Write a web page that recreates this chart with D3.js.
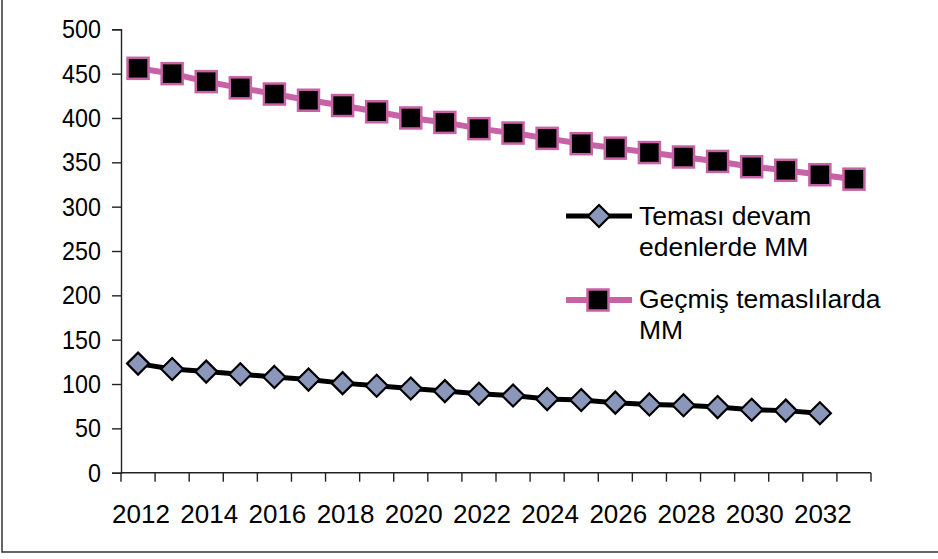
<!DOCTYPE html>
<html><head><meta charset="utf-8">
<script src="https://cdn.jsdelivr.net/npm/d3@7"></script>
<style>html,body{margin:0;padding:0;background:#fff;}svg{display:block;font-family:"Liberation Sans",Arial,sans-serif;}</style>
</head><body>
<svg id="c" width="938" height="559"></svg>
<script>
const categories = ["2012","2013","2014","2015","2016","2017","2018","2019","2020","2021","2022","2023","2024","2025","2026","2027","2028","2029","2030","2031","2032","2033"];
const tickLabels = ["2012","2014","2016","2018","2020","2022","2024","2026","2028","2030","2032"];
const yTicks = [0,50,100,150,200,250,300,350,400,450,500];
const seriesNames = ["Teması devam edenlerde MM","Geçmiş temaslılarda MM"];
const legendLines = [["Teması devam","edenlerde MM"],["Geçmiş temaslılarda","MM"]];
const continuing = [123,117,114,111,108,105,101,98,95,92,89,87,83,82,79,77,76,74,71,70,67];
const past = [456,450,441,434,427,420,414,407,400,395,388,383,377,371,366,361,356,351,345,341,336,331];

const svg = d3.select("#c");
const W = 938, H = 559;
const plot = {left:121, right:871, top:29.3, bottom:472.7};

// outer frame (only left and bottom edges visible)
svg.append("rect").attr("x",2).attr("y",-20).attr("width",W+20).attr("height",552-(-20))
  .attr("fill","none").attr("stroke","#333").attr("stroke-width",1.5);

const x = d3.scaleBand().domain(categories).range([plot.left, plot.right]).padding(0);
const y = d3.scaleLinear().domain([0,500]).range([plot.bottom, plot.top]);
const cx = d => x(d) + x.bandwidth()/2;

// y axis
const sx = 0.88;
const yAxis = d3.axisLeft(y).tickValues(yTicks).tickSize(9).tickPadding(11).tickFormat(d3.format("d"));
const gy = svg.append("g").attr("transform",`translate(${plot.left},0)`).call(yAxis);
gy.select(".domain").attr("stroke","#222").attr("stroke-width",1.4);
gy.selectAll(".tick line").attr("stroke","#222").attr("stroke-width",1.4);
gy.selectAll(".tick text").attr("font-size",26.5).attr("fill","#000")
  .attr("x",-20/sx).attr("transform",`scale(${sx},1)`);

// x axis: tick marks on band boundaries
const boundaries = categories.map(c => x(c)).concat([plot.right]);
svg.append("line").attr("x1",plot.left).attr("x2",plot.right).attr("y1",plot.bottom).attr("y2",plot.bottom)
  .attr("stroke","#222").attr("stroke-width",1.4);
svg.append("g").selectAll("line").data(boundaries).join("line")
  .attr("x1",d=>d).attr("x2",d=>d).attr("y1",plot.bottom).attr("y2",plot.bottom+9)
  .attr("stroke","#222").attr("stroke-width",1.4);
svg.append("g").selectAll("text").data(tickLabels).join("text")
  .attr("x",d=>cx(d)+3).attr("y",523).attr("text-anchor","middle")
  .attr("font-size",26).attr("fill","#000").text(d=>d);

const line = d3.line().x((d,i)=>cx(categories[i])).y(d=>y(d));

// past series (pink line, black squares)
const pink = "#c862a6", slate = "#8a97bb";
svg.append("path").datum(past).attr("d",line).attr("fill","none").attr("stroke",pink).attr("stroke-width",6);
svg.append("g").selectAll("rect").data(past).join("rect")
  .attr("x",(d,i)=>cx(categories[i])-10.5).attr("y",d=>y(d)-10.5)
  .attr("width",21).attr("height",21).attr("fill","#000").attr("stroke",pink).attr("stroke-width",2.5);

// continuing series (black line, slate diamonds)
svg.append("path").datum(continuing).attr("d",line).attr("fill","none").attr("stroke","#000").attr("stroke-width",5);
const diamond = r => `M0,${-r}L${r},0L0,${r}L${-r},0Z`;
svg.append("g").selectAll("path").data(continuing).join("path")
  .attr("transform",(d,i)=>`translate(${cx(categories[i])},${y(d)})`)
  .attr("d",diamond(11)).attr("fill",slate).attr("stroke","#000").attr("stroke-width",2.2);

// legend
const lg = svg.append("g");
const items = [
  {ly:216, tb:224.5, color:"#000", sw:5, marker:"diamond"},
  {ly:300, tb:308, color:pink, sw:6, marker:"square"}
];
items.forEach((it,k)=>{
  lg.append("line").attr("x1",566).attr("x2",632).attr("y1",it.ly).attr("y2",it.ly)
    .attr("stroke",it.color).attr("stroke-width",it.sw);
  if(it.marker==="diamond"){
    lg.append("path").attr("transform",`translate(599,${it.ly})`).attr("d",diamond(11))
      .attr("fill",slate).attr("stroke","#000").attr("stroke-width",2.2);
  } else {
    lg.append("rect").attr("x",598-10.5).attr("y",it.ly-10.5).attr("width",21).attr("height",21)
      .attr("fill","#000").attr("stroke",pink).attr("stroke-width",2.5);
  }
  const t = lg.append("text").attr("x",639).attr("y",it.tb).attr("font-size",26.5).attr("fill","#000");
  legendLines[k].forEach((s,j)=>{
    t.append("tspan").attr("x",639).attr("dy",j===0?0:31).text(s);
  });
});
</script>
</body></html>
